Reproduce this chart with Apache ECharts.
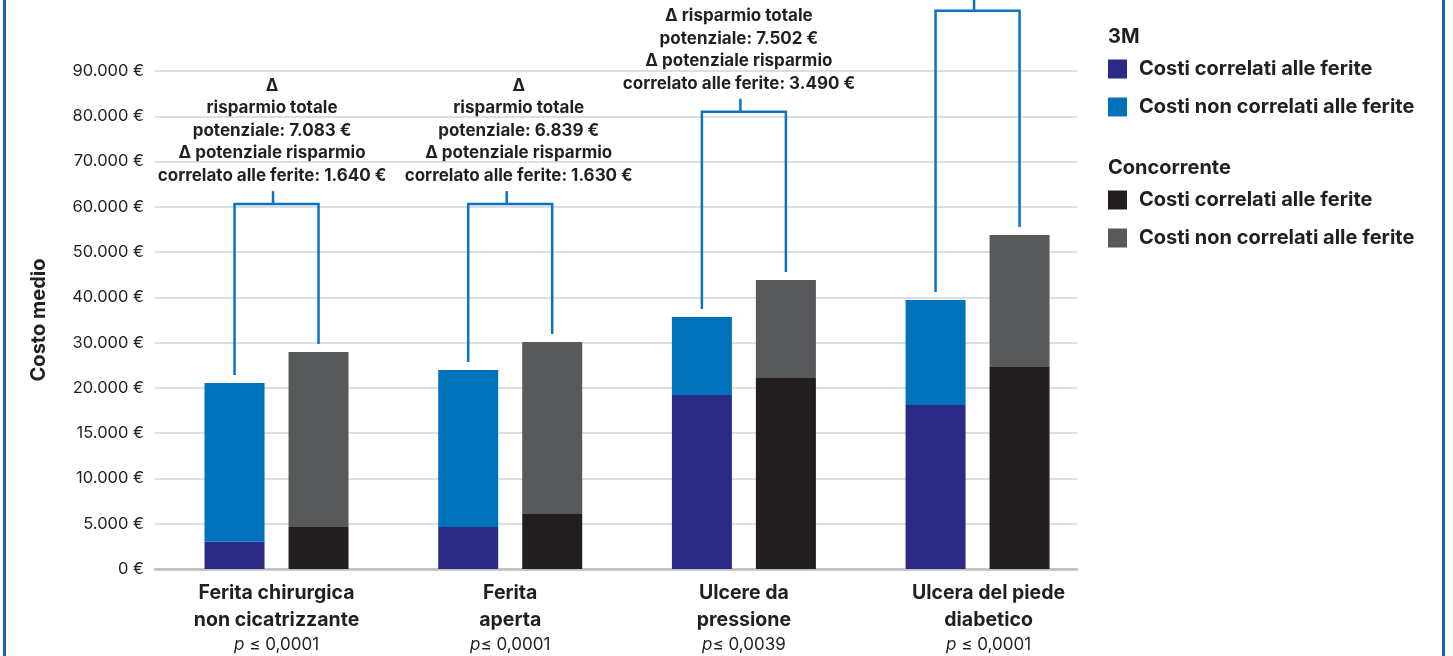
<!DOCTYPE html>
<html>
<head>
<meta charset="utf-8">
<script src="https://cdn.jsdelivr.net/npm/echarts@6/dist/echarts.min.js"></script>
<style>
  html, body { margin: 0; padding: 0; background: #ffffff; }
  #chart { width: 1453px; height: 656px; }
</style>
</head>
<body>
<div id="chart"></div>
<script>
// ---------------- DATA ----------------
const categories = ['Ferita chirurgica\nnon cicatrizzante', 'Ferita\naperta', 'Ulcere da\npressione', 'Ulcera del piede\ndiabetico'];
const pValues = ['p ≤ 0,0001', 'p≤ 0,0001', 'p≤ 0,0039', 'p ≤ 0,0001'];
const mmmWound = [3000, 4640, 19220, 18120];
const mmmNonWound = [18090, 19320, 16450, 21300];
const compWound = [4640, 6075, 22190, 24620];
const compNonWound = [23290, 24065, 21650, 29160];
const savingsTotal = ['7.083', '6.839', '7.502', null];
const savingsWound = ['1.640', '1.630', '3.490', null];
const deltaOnOwnLine = [true, true, false, false];
const yTicks = [0, 5000, 10000, 15000, 20000, 30000, 40000, 50000, 60000, 70000, 80000, 90000];

// ---------------- LAYOUT / STYLE ----------------
const FONT = 'Inter, Lato, "Noto Sans", sans-serif';
const INK = '#231f20';
const BLUE_LINE = '#0b73c2';
const bracketLevel = [60600, 60600, 81000, 103300]; // height of bracket bar (in axis value)
const textDx = [-1, 12, -1.5, 0];

// piecewise axis: equally spaced ticks with uneven steps
function toAxis(v) {
  for (let i = 0; i < yTicks.length - 1; i++) {
    if (v <= yTicks[i + 1]) return i + (v - yTicks[i]) / (yTicks[i + 1] - yTicks[i]);
  }
  const n = yTicks.length - 1;
  const step = yTicks[n] - yTicks[n - 1];
  return n + (v - yTicks[n]) / step;
}
function euro(v) {
  return String(Math.round(v)).replace(/\B(?=(\d{3})+(?!\d))/g, '.') + ' €';
}

const mmmTotal = mmmWound.map((w, i) => w + mmmNonWound[i]);
const compTotal = compWound.map((w, i) => w + compNonWound[i]);

function annotationText(i) {
  if (!savingsTotal[i]) return null;
  const lines = deltaOnOwnLine[i] ? ['Δ', 'risparmio totale'] : ['Δ risparmio totale'];
  lines.push('potenziale: ' + savingsTotal[i] + ' €');
  lines.push('Δ potenziale risparmio');
  lines.push('correlato alle ferite: ' + savingsWound[i] + ' €');
  return lines.join('\n');
}

const chart = echarts.init(document.getElementById('chart'), null, { renderer: 'canvas' });

const barCommon = {
  type: 'bar', xAxisIndex: 1, yAxisIndex: 1, barWidth: 60, barGap: '40%',
  emphasis: { disabled: true }
};

const legendText = { fontFamily: FONT, fontWeight: 'bold', fontSize: 20, color: INK, lineHeight: 19, padding: [0, 0, 0, 7] };

const option = {
  animation: false,
  backgroundColor: '#ffffff',
  grid: [
    { left: 155, top: 71, width: 922, height: 498 },
    { left: 159.7, top: 71, width: 934.7, height: 498 }
  ],
  xAxis: [
    {
      gridIndex: 0, type: 'category', data: categories,
      axisLine: { lineStyle: { color: '#bcbec0', width: 2.5 } },
      axisTick: { show: false }, axisLabel: { show: false }
    },
    {
      gridIndex: 1, type: 'category',
      data: categories.map((c, i) => i === 3 ? { value: c, textStyle: { padding: [0, 0, 0, 22] } } : c),
      axisLine: { show: false }, axisTick: { show: false },
      axisLabel: {
        interval: 0, margin: 11,
        formatter: function (val, idx) {
          const lines = val.split('\n').map(l => '{b|' + l + '}');
          const p = pValues[idx];
          return lines.join('\n') + '\n{i|p}{n|' + p.slice(1) + '}';
        },
        rich: {
          b: { fontFamily: FONT, fontWeight: 'bold', fontSize: 19.5, color: INK, lineHeight: 27 },
          i: { fontFamily: FONT, fontStyle: 'italic', fontSize: 17, color: INK, lineHeight: 22 },
          n: { fontFamily: FONT, fontSize: 17, color: INK, lineHeight: 22 }
        }
      }
    }
  ],
  yAxis: [
    {
      gridIndex: 0, type: 'value', min: 0, max: yTicks.length - 1, interval: 1,
      axisLine: { show: false }, axisTick: { show: false },
      splitLine: { lineStyle: { color: '#d1d3d4', width: 1.5 } },
      axisLabel: {
        margin: 11, fontFamily: FONT, fontSize: 16.5, color: INK,
        formatter: function (u) { return euro(yTicks[Math.round(u)]); }
      },
      name: 'Costo medio', nameLocation: 'middle', nameGap: 106,
      nameTextStyle: { fontFamily: FONT, fontWeight: 'bold', fontSize: 20, color: INK }
    },
    { gridIndex: 1, type: 'value', min: 0, max: yTicks.length - 1, interval: 1, show: false }
  ],
  legend: [
    {
      data: ['3M|Costi correlati alle ferite', '3M|Costi non correlati alle ferite'],
      orient: 'vertical', left: 1108, top: 59, padding: 0,
      itemWidth: 19, itemHeight: 19, itemGap: 18, icon: 'rect', selectedMode: false,
      formatter: n => n.split('|')[1],
      textStyle: legendText
    },
    {
      data: ['Concorrente|Costi correlati alle ferite', 'Concorrente|Costi non correlati alle ferite'],
      orient: 'vertical', left: 1108, top: 190, padding: 0,
      itemWidth: 19, itemHeight: 19, itemGap: 18, icon: 'rect', selectedMode: false,
      formatter: n => n.split('|')[1],
      textStyle: legendText
    }
  ],
  graphic: [
    { type: 'text', x: 1108, y: 37, style: { text: '3M', fill: INK, fontFamily: FONT, fontWeight: 'bold', fontSize: 20, verticalAlign: 'middle' } },
    { type: 'text', x: 1108, y: 168, style: { text: 'Concorrente', fill: INK, fontFamily: FONT, fontWeight: 'bold', fontSize: 20, verticalAlign: 'middle' } },
    { type: 'rect', shape: { x: 3, y: 0, width: 3, height: 656 }, style: { fill: '#1b60ad' } },
    { type: 'rect', shape: { x: 1442, y: 0, width: 3, height: 656 }, style: { fill: '#1b60ad' } }
  ],
  series: [
    Object.assign({}, barCommon, {
      name: '3M|Costi correlati alle ferite', stack: '3M',
      itemStyle: { color: '#2b2a84' },
      data: mmmWound.map(toAxis)
    }),
    Object.assign({}, barCommon, {
      name: '3M|Costi non correlati alle ferite', stack: '3M',
      itemStyle: { color: '#0071bb' },
      data: mmmTotal.map((t, i) => toAxis(t) - toAxis(mmmWound[i]))
    }),
    Object.assign({}, barCommon, {
      name: 'Concorrente|Costi correlati alle ferite', stack: 'comp',
      itemStyle: { color: '#231f20' },
      data: compWound.map(toAxis)
    }),
    Object.assign({}, barCommon, {
      name: 'Concorrente|Costi non correlati alle ferite', stack: 'comp',
      itemStyle: { color: '#58595b' },
      data: compTotal.map((t, i) => toAxis(t) - toAxis(compWound[i]))
    }),
    {
      type: 'custom', xAxisIndex: 1, yAxisIndex: 1, clip: false, silent: true, z: 5,
      encode: { x: 0, y: 1 },
      data: categories.map((c, i) => [i, 0]),
      renderItem: function (params, api) {
        const i = params.dataIndex;
        const c = api.coord([i, 0])[0];
        const lx = c - 42, rx = c + 42;
        const lTop = api.coord([i, toAxis(mmmTotal[i])])[1] - 8;
        const rTop = api.coord([i, toAxis(compTotal[i])])[1] - 8;
        const ly = api.coord([i, toAxis(bracketLevel[i])])[1];
        const tx = (lx + rx) / 2 - 3.5;
        const children = [
          { type: 'polyline', shape: { points: [[lx, lTop], [lx, ly], [rx, ly], [rx, rTop]] },
            style: { stroke: BLUE_LINE, lineWidth: 2.5, fill: 'none' } },
          { type: 'line', shape: { x1: tx, y1: ly, x2: tx, y2: ly - 13 },
            style: { stroke: BLUE_LINE, lineWidth: 2.5 } }
        ];
        const txt = annotationText(i);
        if (txt) {
          children.push({
            type: 'text', x: tx + textDx[i], y: ly - 13 - 4,
            style: { text: txt, fill: INK, fontFamily: FONT, fontWeight: 'bold', fontSize: 17,
                     lineHeight: 22.5, align: 'center', verticalAlign: 'bottom' }
          });
        }
        return { type: 'group', children: children };
      }
    }
  ]
};

chart.setOption(option);
</script>
</body>
</html>
